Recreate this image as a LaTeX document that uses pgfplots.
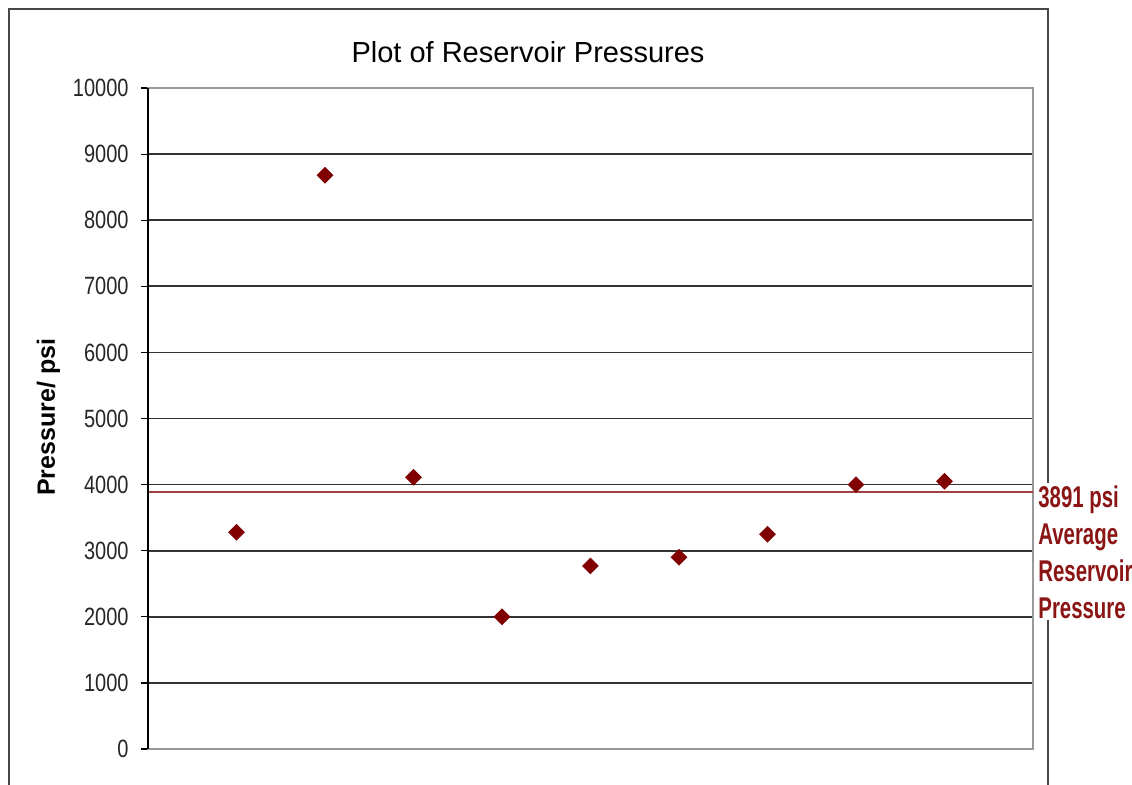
\documentclass[border=0pt]{standalone}
\usepackage{fontspec}
\setmainfont{Liberation Sans}
\newfontfamily\annotfont[FakeStretch=0.68]{Liberation Sans}
\newfontfamily\tickfont[FakeStretch=0.8]{Liberation Sans}
\usepackage{pgfplots}
\pgfplotsset{compat=1.18}
\definecolor{markred}{HTML}{800000}
\definecolor{avgred}{HTML}{A04040}
\definecolor{annred}{HTML}{8B1515}
\definecolor{gridc}{HTML}{333333}
\definecolor{boxc}{HTML}{999999}
\begin{document}
\begin{tikzpicture}
\begin{axis}[
  scale only axis,
  width=442.5pt, height=330.5pt,
  xmin=0, xmax=10, ymin=0, ymax=10000,
  xtick=\empty,
  ytick={0,1000,...,10000},
  ytick pos=left,
  tick align=outside,
  major tick length=3.5pt,
  every tick/.style={black, line width=0.6pt},
  scaled ticks=false,
  /pgf/number format/1000 sep={},
  /pgf/number format/assume math mode=true,
  yticklabel style={font=\tickfont\fontsize{12.5}{14}\selectfont, anchor=east, inner sep=0pt, xshift=-6pt, color=black!85},
  ymajorgrids,
  grid style={gridc, line width=0.85pt},
  axis line style={boxc, line width=0.8pt},
  clip=false,
]
\addplot[avgred, line width=0.7pt, forget plot] coordinates {(0,3891) (10,3891)};
\addplot[only marks, mark=square*, mark size=2.75pt, color=markred,
  every mark/.append style={rotate=45, fill=markred, draw=markred}] coordinates {
  (1,3280) (2,8680) (3,4110) (4,2000) (5,2770) (6,2900) (7,3250) (8,4000) (9,4050)
};
\draw[black, line width=0.8pt] (rel axis cs:0,0) -- (rel axis cs:0,1);
\node[font=\fontsize{14.5}{17}\selectfont, anchor=base] at (axis cs:4.294,10393) {Plot of Reservoir Pressures};
\node[font=\bfseries\fontsize{12.5}{15}\selectfont, rotate=90, anchor=base] at (axis cs:-1.051,5020) {Pressure/ psi};
\end{axis}
\draw[black!72, line width=1pt] (-69.5pt,-25pt) -- (-69.5pt,370pt) -- (450pt,370pt) -- (450pt,-25pt);
\node[fill=white, inner sep=1pt, anchor=north west, align=left, text=annred,
  font=\annotfont\bfseries\fontsize{15}{18.5}\selectfont] at (444pt,133pt) {3891 psi\\Average\\Reservoir\\Pressure};
\pgfresetboundingbox
\path[use as bounding box] (-74pt,-17.5pt) rectangle (492pt,374.5pt);
\end{tikzpicture}
\end{document}
